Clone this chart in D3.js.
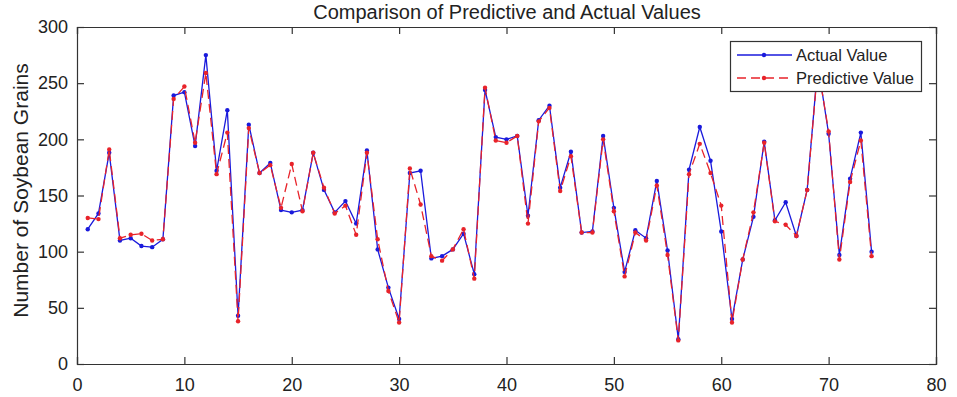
<!DOCTYPE html>
<html>
<head>
<meta charset="utf-8">
<script src="https://cdn.jsdelivr.net/npm/d3@7"></script>
<style>
  html, body { margin: 0; padding: 0; background: #fff; }
  svg text { font-family: "Liberation Sans", Arial, sans-serif; fill: #222; }
</style>
</head>
<body>
<svg id="chart" width="957" height="397"></svg>
<script>
const sampleIndex = d3.range(1, 75);
const actualValues = [120,134,188,110,112,105,104,111,239,242,194,275,172,226,43,213,170,179,137,135,
  137,188,155,135,145,125,190,102,68,40,170,172,94,96,102,116,80,244,202,200,
  203,132,217,230,157,189,117,118,203,139,82,119,112,163,101,22,173,211,181,118,
  40,93,131,198,128,144,114,155,267,205,97,165,206,100];
const predictedValues = [130,129,191,112,115,116,110,111,236,247,197,259,169,206,38,210,170,177,139,178,
  136,188,157,134,141,115,188,111,65,37,174,142,96,92,102,120,76,246,199,197,
  203,125,216,228,154,185,117,117,200,136,78,117,110,159,97,21,169,196,170,141,
  37,93,135,197,127,124,114,155,265,207,93,162,199,96];
const xTicks = [0,10,20,30,40,50,60,70,80];
const yTicks = [0,50,100,150,200,250,300];
const titleText = "Comparison of Predictive and Actual Values";
const yLabel = "Number of Soybean Grains";
const legendLabels = ["Actual Value", "Predictive Value"];

const svg = d3.select("#chart");
const mLeft = 77, mRight = 936, mTop = 27, mBottom = 364;
const x = d3.scaleLinear().domain([0, 80]).range([mLeft, mRight]);
const y = d3.scaleLinear().domain([0, 300]).range([mBottom, mTop]);

// Title
svg.append("text").attr("x", (mLeft + mRight) / 2 + 0.5).attr("y", 18.5)
  .attr("text-anchor", "middle").attr("font-size", 20).text(titleText);

// Y label
svg.append("text").attr("transform", `translate(27.5,190.5) rotate(-90)`)
  .attr("text-anchor", "middle").attr("font-size", 21).text(yLabel);

svg.append("defs").append("clipPath").attr("id", "clip")
  .append("rect").attr("x", mLeft).attr("y", mTop).attr("width", mRight - mLeft).attr("height", mBottom - mTop);

// Axes
const axisColor = "#333";
const gx = svg.append("g").attr("transform", `translate(0,${mBottom})`)
  .call(d3.axisBottom(x).tickValues(xTicks).tickSize(-7).tickPadding(14).tickFormat(d3.format("d")));
const gxTop = svg.append("g").attr("transform", `translate(0,${mTop})`)
  .call(d3.axisTop(x).tickValues(xTicks).tickSize(-7).tickFormat(""));
const gy = svg.append("g").attr("transform", `translate(${mLeft},0)`)
  .call(d3.axisLeft(y).tickValues(yTicks).tickSize(-7).tickPadding(9).tickFormat(d3.format("d")));
const gyR = svg.append("g").attr("transform", `translate(${mRight},0)`)
  .call(d3.axisRight(y).tickValues(yTicks).tickSize(-7).tickFormat(""));
[gx, gxTop, gy, gyR].forEach(g => {
  g.select(".domain").attr("stroke", axisColor).attr("stroke-width", 1.2);
  g.selectAll(".tick line").attr("stroke", axisColor).attr("stroke-width", 1.2);
  g.selectAll(".tick text").attr("font-size", 18).attr("fill", "#222")
    .attr("font-family", "Liberation Sans, Arial, sans-serif");
});

const plot = svg.append("g").attr("clip-path", "url(#clip)");

const blue = "#1a1adc", red = "#e8232a";
const line = d3.line().x((d, i) => x(sampleIndex[i])).y(d => y(d));

plot.append("path").datum(actualValues).attr("d", line)
  .attr("fill", "none").attr("stroke", blue).attr("stroke-width", 1.3);
plot.selectAll(".pa").data(actualValues).join("circle")
  .attr("cx", (d, i) => x(sampleIndex[i])).attr("cy", d => y(d)).attr("r", 2.2).attr("fill", blue);

plot.append("path").datum(predictedValues).attr("d", line)
  .attr("fill", "none").attr("stroke", red).attr("stroke-width", 1.3).attr("stroke-dasharray", "9,5");
plot.selectAll(".pp").data(predictedValues).join("circle")
  .attr("cx", (d, i) => x(sampleIndex[i])).attr("cy", d => y(d)).attr("r", 2.2).attr("fill", red);

// Legend
const lg = svg.append("g");
lg.append("rect").attr("x", 730.5).attr("y", 41.5).attr("width", 191).attr("height", 50)
  .attr("fill", "#fff").attr("stroke", "#333").attr("stroke-width", 1.2);
const rows = [{label: legendLabels[0], color: blue, dash: null, yy: 55},
              {label: legendLabels[1], color: red, dash: "9,5", yy: 78}];
rows.forEach(r => {
  lg.append("line").attr("x1", 737).attr("x2", 792).attr("y1", r.yy).attr("y2", r.yy)
    .attr("stroke", r.color).attr("stroke-width", 1.3).attr("stroke-dasharray", r.dash);
  lg.append("circle").attr("cx", 764).attr("cy", r.yy).attr("r", 2.2).attr("fill", r.color);
  lg.append("text").attr("x", 796).attr("y", r.yy + 6).attr("font-size", 16.5).text(r.label);
});
</script>
</body>
</html>
